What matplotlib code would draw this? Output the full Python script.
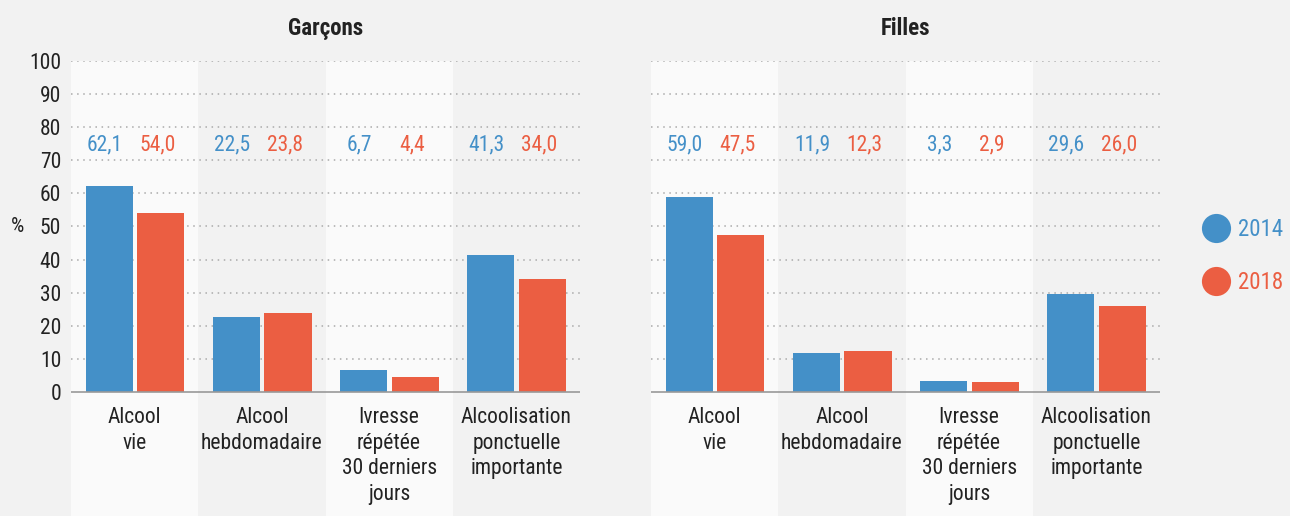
import matplotlib.pyplot as plt
from matplotlib.lines import Line2D
from matplotlib import font_manager

# --- data
categories = ["Alcool\nvie", "Alcool\nhebdomadaire", "Ivresse\nrépétée\n30 derniers\njours",
              "Alcoolisation\nponctuelle\nimportante"]
years = ["2014", "2018"]
garcons_2014 = [62.1, 22.5, 6.7, 41.3]
garcons_2018 = [54.0, 23.8, 4.4, 34.0]
filles_2014 = [59.0, 11.9, 3.3, 29.6]
filles_2018 = [47.5, 12.3, 2.9, 26.0]
panel_titles = ["Garçons", "Filles"]

blue = "#4490c8"
red = "#eb5e42"
bg = "#f2f2f2"
band = "#fafafa"
txt = "#222222"

names = {f.name for f in font_manager.fontManager.ttflist}
fam = "DejaVu Sans"
for cand in ["Roboto Condensed", "Barlow Semi Condensed", "Archivo Narrow", "Asap Condensed",
             "Barlow Condensed"]:
    if cand in names:
        fam = cand
        break
plt.rcParams["font.family"] = [fam, "DejaVu Sans"]

fig = plt.figure(figsize=(12.9, 5.16), dpi=100, facecolor=bg)

panels = [(garcons_2014, garcons_2018), (filles_2014, filles_2018)]
lefts = [71 / 1290, 651 / 1290]
ymin = -37.5

for k, (v14, v18) in enumerate(panels):
    ax = fig.add_axes([lefts[k], 0, 509 / 1290, (516 - 61) / 516])
    ax.set_facecolor(bg)
    ax.set_xlim(-0.5, len(categories) - 0.5)
    ax.set_ylim(ymin, 100)
    for i in range(len(categories)):
        if i % 2 == 0:
            ax.axvspan(i - 0.5, i + 0.5, color=band, zorder=0, lw=0)
    for g in range(10, 101, 10):
        ax.axhline(g, color="#aaaaaa", ls=(0, (1, 3)), lw=1.1, zorder=1)
    x = list(range(len(categories)))
    ax.bar([i - 0.2 for i in x], v14, width=0.37, color=blue, zorder=2)
    ax.bar([i + 0.205 for i in x], v18, width=0.37, color=red, zorder=2)
    ax.axhline(0, color="#999999", lw=1.2, zorder=3)
    for i in x:
        ax.text(i - 0.235, 74.5, f"{v14[i]:.1f}".replace(".", ","), color=blue,
                ha="center", va="center", fontsize=15.5)
        ax.text(i + 0.18, 74.5, f"{v18[i]:.1f}".replace(".", ","), color=red,
                ha="center", va="center", fontsize=15.5)
        ax.text(i, -4.5, categories[i], ha="center", va="top", fontsize=15.5,
                color=txt, linespacing=1.3)
    for s in ax.spines.values():
        s.set_visible(False)
    ax.set_xticks([])
    if k == 0:
        ax.set_yticks(range(0, 101, 10))
        ax.tick_params(axis="y", length=0, labelsize=15.5, labelcolor=txt, pad=7)
        ax.text(-0.92, 50, "%", ha="center", va="center", fontsize=15,
                color=txt, transform=ax.transData, clip_on=False)
    else:
        ax.set_yticks([])
    ax.set_title(panel_titles[k], fontsize=16.5, fontweight="bold", color=txt, pad=19)

handles = [Line2D([], [], marker="o", ls="", markersize=21, color=c, markeredgewidth=0)
           for c in (blue, red)]
fig.legend(handles, years, loc="center left", bbox_to_anchor=(1191 / 1290, 1 - 256 / 516),
           frameon=False, labelcolor="markerfacecolor", fontsize=16.5,
           handletextpad=0.35, labelspacing=1.35, borderpad=0, handlelength=1.2)

fig.savefig("out.png", dpi=100, facecolor=bg)
